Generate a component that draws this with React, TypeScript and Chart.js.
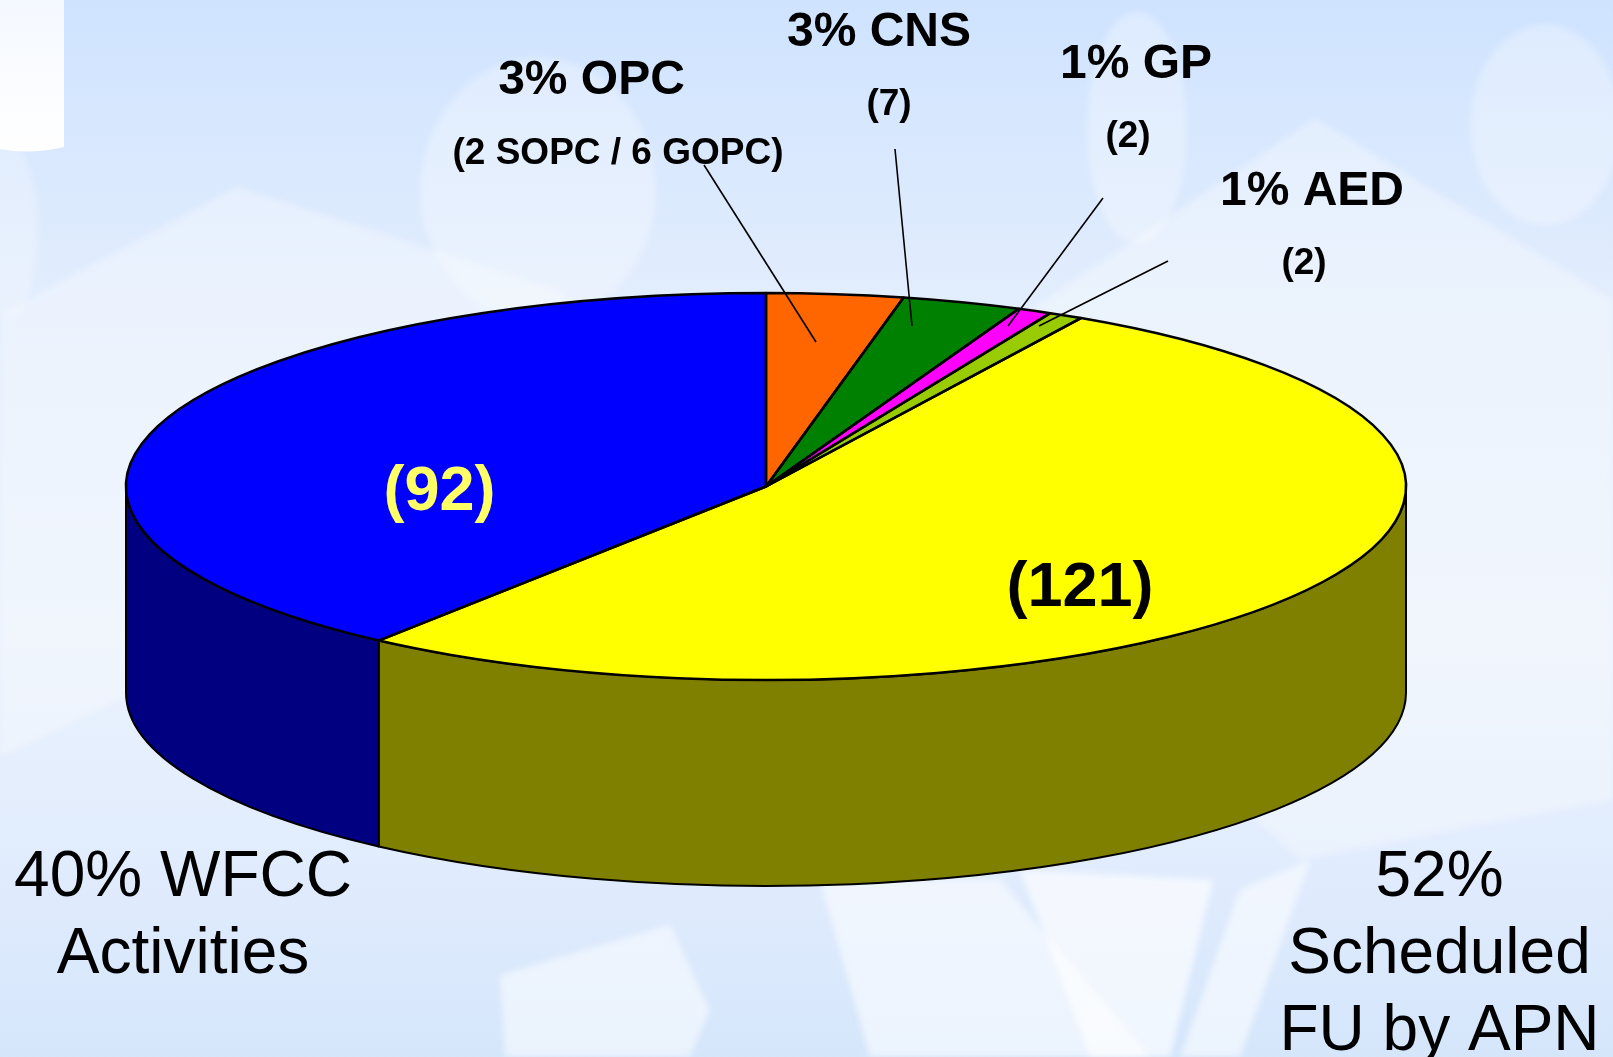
import React, { useEffect, useRef } from "react";
import { Chart, registerables } from "chart.js";

Chart.register(...registerables);

const categories = ["OPC", "CNS", "GP", "AED", "Scheduled FU by APN", "WFCC Activities"];
const values = [8, 7, 2, 2, 121, 92];
const topColors = ["#FF6600", "#008000", "#FF00FF", "#99CC00", "#FFFF00", "#0000FF"];
const wallColors = ["#803300", "#004000", "#800080", "#4D6600", "#808000", "#000080"];

const boldLabels: [string, number, number, number][] = [
  ["3% OPC", 591.5, 94, 48],
  ["(2 SOPC / 6 GOPC)", 618, 164, 37],
  ["3% CNS", 879, 46, 48],
  ["(7)", 889, 115, 37],
  ["1% GP", 1136, 78, 48],
  ["(2)", 1128, 147, 37],
  ["1% AED", 1312, 205, 48],
  ["(2)", 1304, 274, 37],
  ["(121)", 1080, 606, 63],
];
const sliceLabel: [string, number, number, number] = ["(92)", 439.5, 510, 63];
const plainLabels: [string, number, number][] = [
  ["40% WFCC", 183, 895.5],
  ["Activities", 183, 972.5],
  ["52%", 1439.5, 895.5],
  ["Scheduled", 1439.5, 972.5],
  ["FU by APN", 1439.5, 1049.5],
];
const leaders: [number, number, number, number][] = [
  [704, 165, 816, 342],
  [895, 149, 912, 326],
  [1103, 198, 1008, 326],
  [1168, 261, 1039, 326],
];

const CX = 766;
const CY = 486.5;
const RX = 640;
const RY = 193.5;
const DEPTH = 206;

type Poly = { a: number; pts: number[][] };
const bgPolys: Poly[] = [
  { a: 0.3, pts: [[237, 187], [0, 315], [0, 1057 - 300], [120, 700], [700, 500], [560, 290]] },
  { a: 0.32, pts: [[1030, 310], [1315, 118], [1613, 300], [1613, 800], [1300, 860], [900, 500]] },
  { a: 0.55, pts: [[820, 880], [1000, 880], [1150, 1057], [870, 1057]] },
  { a: 0.65, pts: [[1020, 870], [1213, 880], [1170, 1057], [1090, 1057]] },
  { a: 0.55, pts: [[1240, 890], [1310, 860], [1240, 1057], [1180, 1057]] },
  { a: 0.5, pts: [[500, 975], [670, 925], [710, 1010], [690, 1057], [505, 1057]] },
];
const bgBlobs: [number, number, number, number, number][] = [
  [538, 190, 118, 132, 0.3],
  [1137, 128, 50, 116, 0.3],
  [1545, 125, 75, 100, 0.3],
  [8, 230, 30, 90, 0.25],
];

const ellipsePlugin = {
  id: "ellipseTransform",
  beforeDraw(chart: any) {
    const { ctx, width, height } = chart;
    ctx.save();
    const g = ctx.createLinearGradient(0, 0, 0, height);
    g.addColorStop(0, "#CFE3FF");
    g.addColorStop(0.28, "#E2EDFD");
    g.addColorStop(0.6, "#EBF2FD");
    g.addColorStop(0.85, "#DFEBFD");
    g.addColorStop(1, "#D5E6FB");
    ctx.fillStyle = g;
    ctx.fillRect(0, 0, width, height);
    ctx.filter = "blur(3px)";
    ctx.fillStyle = "#FFFFFF";
    for (const [x, y, rx, ry, a] of bgBlobs) {
      ctx.globalAlpha = a;
      ctx.beginPath();
      ctx.ellipse(x, y, rx, ry, 0, 0, Math.PI * 2);
      ctx.fill();
    }
    for (const p of bgPolys) {
      ctx.globalAlpha = p.a;
      ctx.beginPath();
      p.pts.forEach(([x, y], i) => (i ? ctx.lineTo(x, y) : ctx.moveTo(x, y)));
      ctx.closePath();
      ctx.fill();
    }
    ctx.filter = "none";
    ctx.globalAlpha = 1;
    const w = ctx.createLinearGradient(0, 0, 0, 150);
    w.addColorStop(0, "#F4F8FF");
    w.addColorStop(1, "#FFFFFF");
    ctx.fillStyle = w;
    ctx.beginPath();
    ctx.moveTo(0, 0);
    ctx.lineTo(64, 0);
    ctx.lineTo(64, 147);
    ctx.quadraticCurveTo(30, 155, 0, 149);
    ctx.closePath();
    ctx.fill();
    ctx.restore();
  },
  beforeDatasetsDraw(chart: any) {
    const { ctx } = chart;
    const arcs = chart.getDatasetMeta(0).data;
    ctx.save();
    ctx.lineJoin = "round";
    ctx.lineWidth = 2;
    ctx.strokeStyle = "#000000";
    arcs.forEach((arc: any, i: number) => {
      for (const shift of [0, Math.PI * 2]) {
        const a = Math.max(arc.startAngle + shift, 0);
        const b = Math.min(arc.endAngle + shift, Math.PI);
        if (b <= a) continue;
        ctx.beginPath();
        ctx.ellipse(CX, CY, RX, RY, 0, a, b);
        ctx.ellipse(CX, CY + DEPTH, RX, RY, 0, b, a, true);
        ctx.closePath();
        ctx.fillStyle = wallColors[i];
        ctx.fill();
        ctx.stroke();
      }
    });
    ctx.restore();
    const first = arcs[0];
    ctx.save();
    ctx.translate(CX, CY);
    ctx.scale(RX / first.outerRadius, RY / first.outerRadius);
    ctx.translate(-first.x, -first.y);
  },
  afterDatasetsDraw(chart: any) {
    const { ctx } = chart;
    ctx.restore();
    const arcs = chart.getDatasetMeta(0).data;
    ctx.save();
    ctx.lineJoin = "round";
    ctx.lineWidth = 2.5;
    ctx.strokeStyle = "#000000";
    arcs.forEach((arc: any) => {
      ctx.beginPath();
      ctx.moveTo(CX, CY);
      ctx.ellipse(CX, CY, RX, RY, 0, arc.startAngle, arc.endAngle);
      ctx.closePath();
      ctx.stroke();
    });
    ctx.lineWidth = 1.6;
    for (const [x1, y1, x2, y2] of leaders) {
      ctx.beginPath();
      ctx.moveTo(x1, y1);
      ctx.lineTo(x2, y2);
      ctx.stroke();
    }
    ctx.textAlign = "center";
    ctx.textBaseline = "alphabetic";
    ctx.fillStyle = "#000000";
    for (const [t, x, y, s] of boldLabels) {
      ctx.font = `bold ${s}px "Liberation Sans"`;
      ctx.fillText(t, x, y);
    }
    ctx.font = `bold ${sliceLabel[3]}px "Liberation Sans"`;
    ctx.fillStyle = "#FFFF66";
    ctx.fillText(sliceLabel[0], sliceLabel[1], sliceLabel[2]);
    ctx.fillStyle = "#000000";
    ctx.font = `64px "Liberation Sans"`;
    for (const [t, x, y] of plainLabels) ctx.fillText(t, x, y);
    ctx.restore();
  },
};

export default function App() {
  const ref = useRef<HTMLCanvasElement>(null);
  useEffect(() => {
    document.body.style.margin = "0";
    const chart = new Chart(ref.current!, {
      type: "pie",
      data: {
        labels: categories,
        datasets: [{ data: values, backgroundColor: topColors, borderWidth: 0, clip: false } as any],
      },
      options: {
        responsive: false,
        animation: false,
        rotation: 0,
        layout: { padding: 0 },
        plugins: { legend: { display: false }, tooltip: { enabled: false } },
      },
      plugins: [ellipsePlugin],
    } as any);
    return () => chart.destroy();
  }, []);
  return (
    <div style={{ position: "absolute", left: 0, top: 0, width: 1613, height: 1057, overflow: "hidden" }}>
      <canvas ref={ref} width={1613} height={1057} style={{ display: "block" }} />
    </div>
  );
}
